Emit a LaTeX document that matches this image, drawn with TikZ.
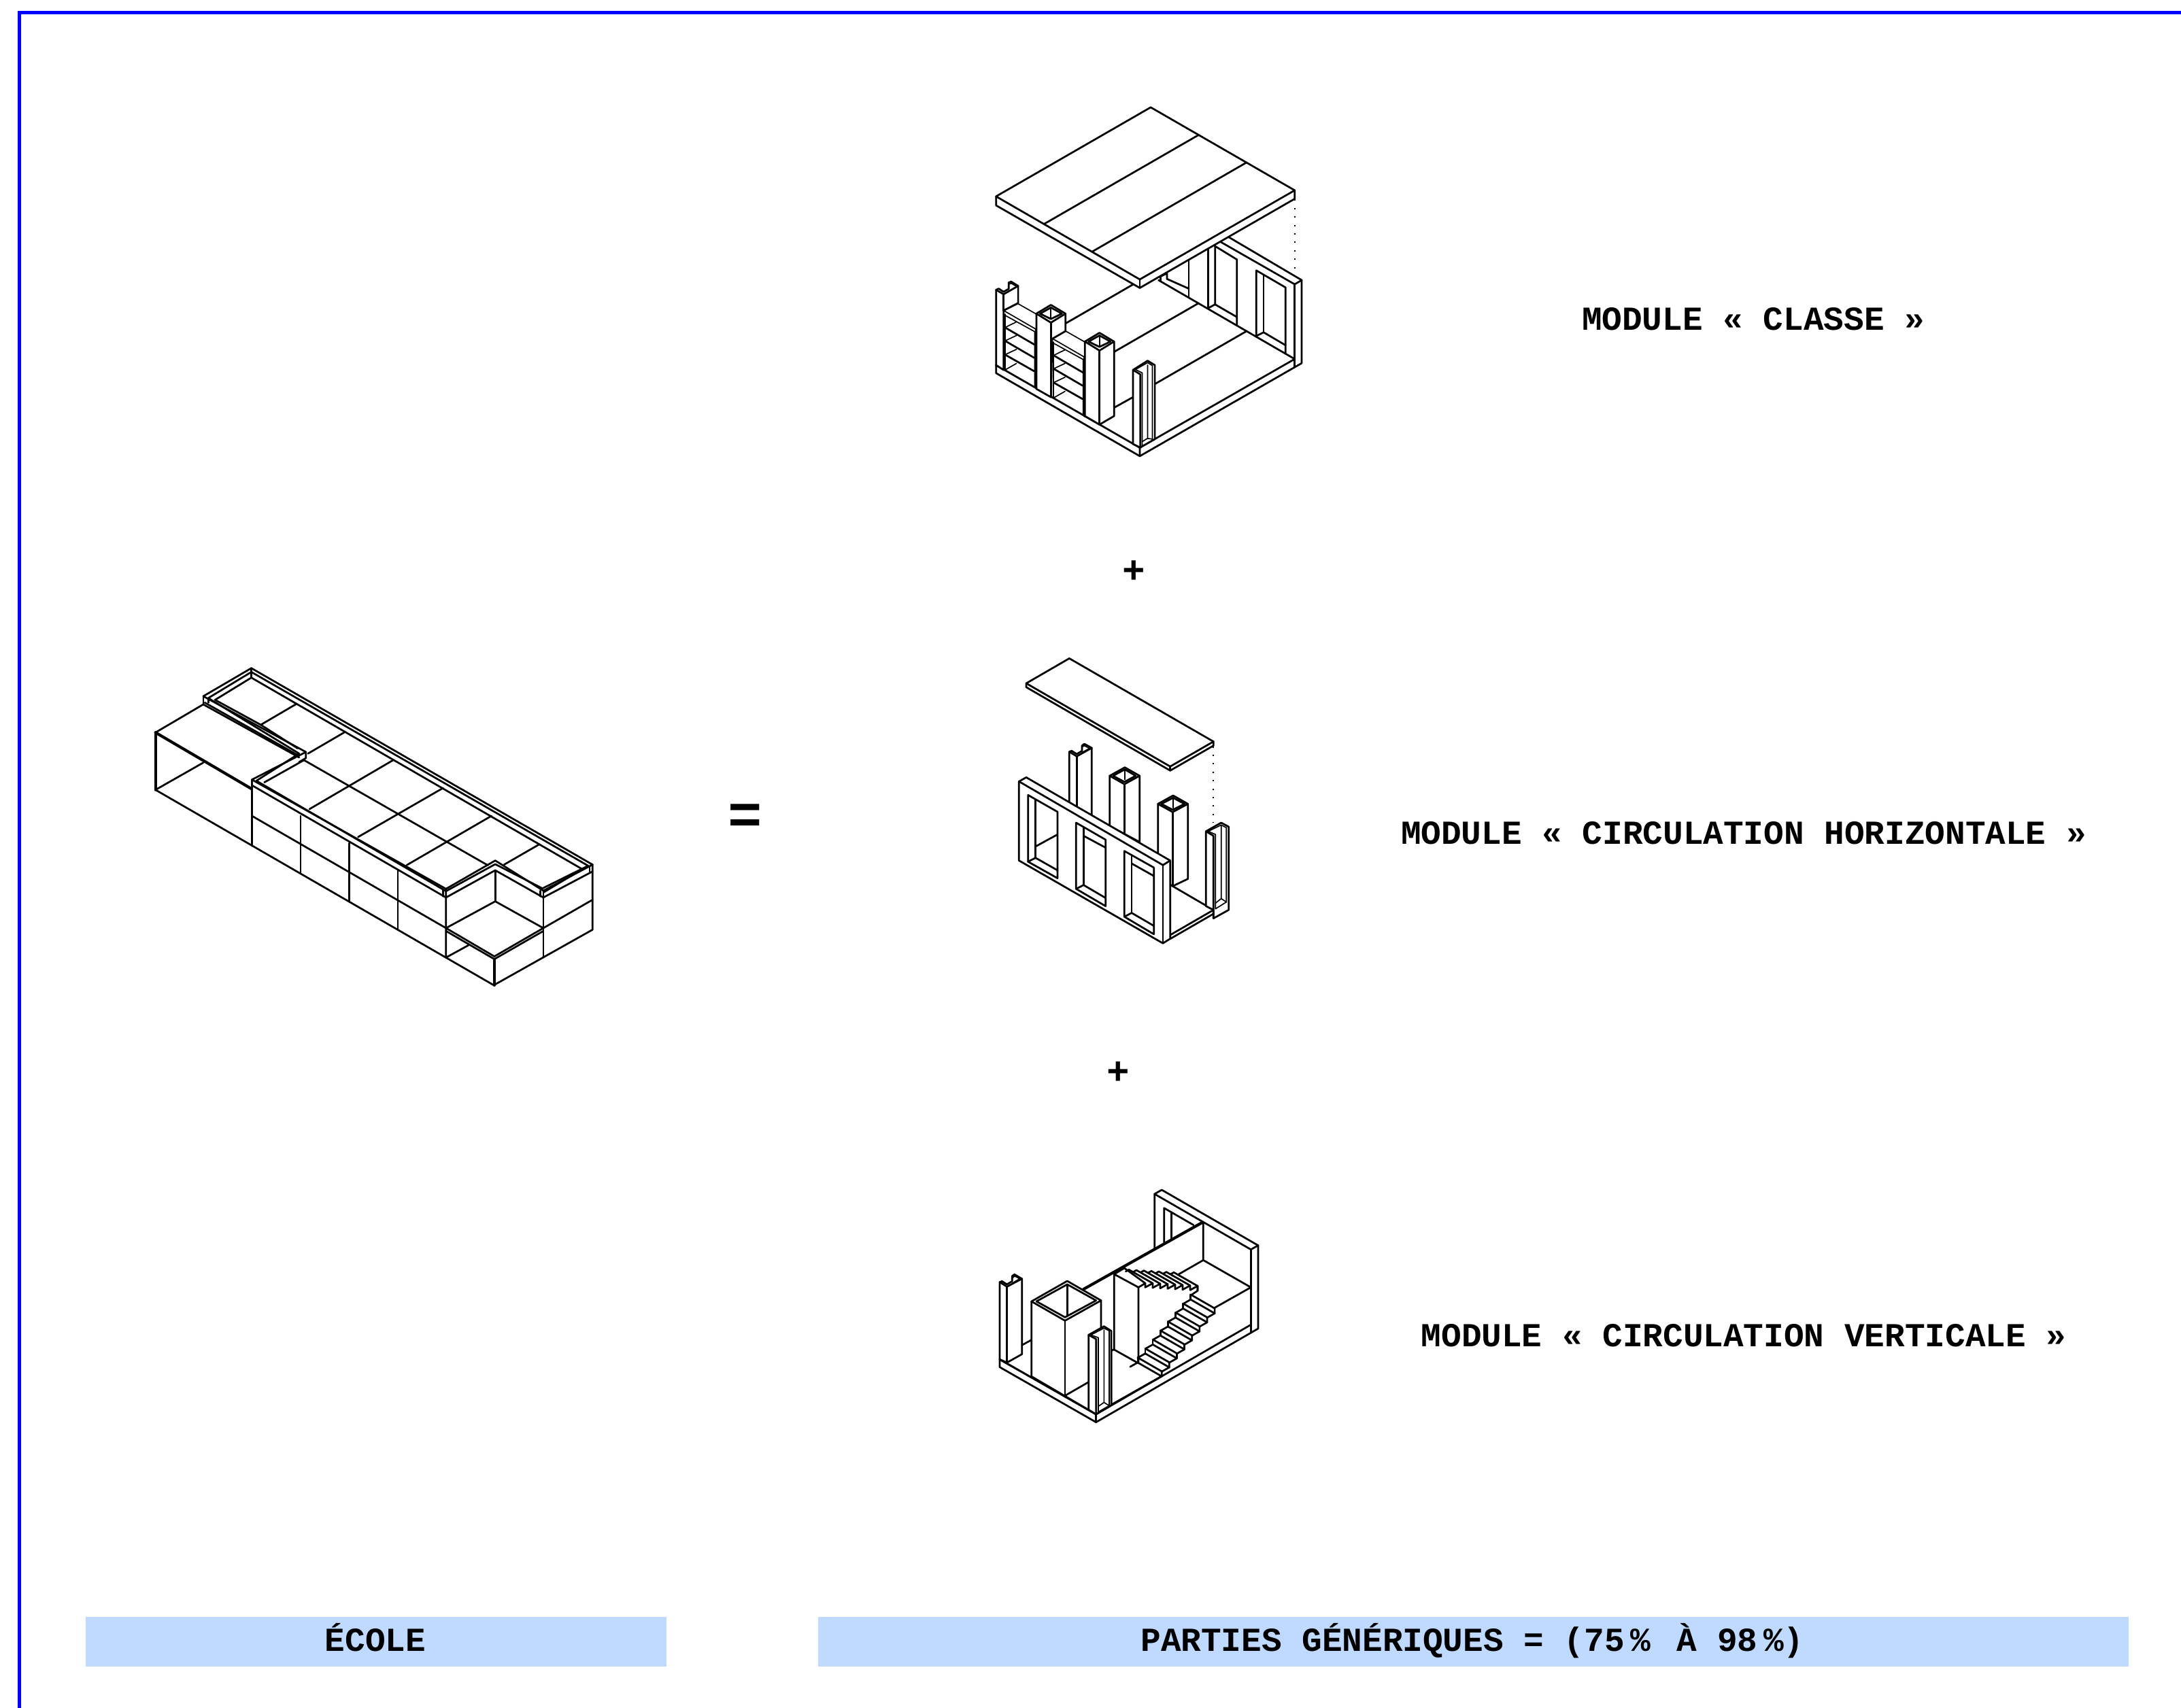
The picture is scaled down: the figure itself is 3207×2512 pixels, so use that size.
\documentclass[tikz,border=0pt]{standalone}
\usepackage{fontspec}
\setmainfont{Liberation Mono}[BoldFont={Liberation Mono Bold}]
\definecolor{framecol}{HTML}{0000FF}
\definecolor{barcol}{HTML}{BFD9FF}
\tikzset{
  ln/.style={draw=black,line width=0.68pt,line join=round,line cap=round},
  thin ln/.style={draw=black,line width=0.42pt,line join=round,line cap=round},
  heavy ln/.style={draw=black,line width=1.05pt,line join=round,line cap=round},
  face/.style={ln,fill=white},
  dots/.style={draw=black,line width=0.5pt,dash pattern=on 0.5pt off 2.6pt},
  lab/.style={font=\bfseries\fontsize{12.35pt}{15pt}\selectfont,inner sep=0pt,text=black,anchor=base},
  barbox/.style={fill=barcol,draw=none}
}
\begin{document}
\begin{tikzpicture}[x=0.25pt,y=-0.25pt]
\useasboundingbox (0,0) rectangle (3207,2512);
\fill[white] (0,0) rectangle (3207,2512);
\draw[framecol,line width=1.3pt] (28.5,2512) -- (28.5,18.5) -- (3207,18.5);

\fill[barbox] (126,2378) rectangle (980,2451);
\fill[barbox] (1203,2378) rectangle (3130,2451);
\node[lab] (ecole) at (552,2428) {ÉCOLE};
\node[lab] (parties) at (2165,2428) {PARTIES GÉNÉRIQUES = (75\kern0.18em\%\kern0.18em\ À 98\kern0.18em\%)};
\node[lab] (classe) at (2578,486) {MODULE « CLASSE »};
\node[lab] (chor) at (2564,1241) {MODULE « CIRCULATION HORIZONTALE »};
\node[lab] (cver) at (2564,1980) {MODULE « CIRCULATION VERTICALE »};
\node[lab,font=\bfseries\fontsize{14pt}{15pt}\selectfont] (plusa) at (1667,858) {+};
\node[lab,font=\bfseries\fontsize{14pt}{15pt}\selectfont] (plusb) at (1644,1594) {+};
\node[lab,font=\bfseries\fontsize{21pt}{26pt}\selectfont] (egal) at (1096,1226) {=};

% ------ MODULE CLASSE
\begin{scope}[shift={(1400,130)},scale=0.357]
\path[ln] (181,1140) -- (181,1173) -- (773,1515) -- (1440,1132) -- (1440,790) -- (1138,612);
\path[ln] (181,1140) -- (773,1480) -- (773,1515);
\path[ln] (773,1480) -- (1411,1115);
\path[ln] (1105,632) -- (1411,807) -- (1440,790);
\path[ln] (1411,807) -- (1411,1150);
\path[ln] (850,790) -- (1411,1115);
% windows
\path[ln] (1253,1020) -- (1253,750) -- (1373,820) -- (1373,1090);
\path[ln] (1283,768) -- (1283,1005);
\path[ln] (1253,1020) -- (1283,1005) -- (1373,1058);
\path[ln] (1055,905) -- (1055,660);
\path[ln] (1083,650) -- (1083,890) -- (1173,942);
\path[ln] (1083,650) -- (1173,705) -- (1173,975);
\path[ln] (1055,905) -- (1083,890);
\path[ln] (975,705) -- (975,860);
\path[ln] (885,785) -- (975,825);
\path[ln] (858,775) -- (885,762) -- (885,785);
\path[ln] (858,775) -- (858,795);
% floor lines
\path[ln] (1213,1000) -- (835,1218);
\path[ln] (1015,885) -- (668,1085);
\path[ln] (750,805) -- (468,968);
\path[ln] (745,1272) -- (668,1315);
% left C column
\path[face] (181,1140) -- (181,830) -- (192,825) -- (212,838) -- (233,826) -- (233,800) -- (243,796) -- (272,814) -- (272,885) -- (212,915) -- (212,1160) -- cycle;
\path[ln] (212,848) -- (212,915);
\path[ln] (181,830) -- (212,848) -- (272,814);
\path[thin ln] (233,808) -- (243,803) -- (262,814);
% shelves and columns
\foreach \dx/\dy in {0/0,200/115}{
\begin{scope}[shift={(\dx,\dy)}]
\path[thin ln] (212,915) -- (268,885) -- (347,930);
\path[thin ln] (212,915) -- (345,992);
\path[thin ln] (218,930) -- (218,1160);
\path[thin ln] (218,935) -- (340,1002) -- (340,1232);
\path[ln] (345,992) -- (345,1236);
\path[ln] (218,985) -- (338,1055);
\path[ln] (218,1040) -- (338,1110);
\path[ln] (218,1097) -- (338,1165);
\path[thin ln] (218,985) -- (265,962);
\path[thin ln] (218,1040) -- (265,1018);
\path[thin ln] (218,1097) -- (265,1075);
\path[thin ln] (218,1160) -- (265,1133);
\end{scope}}
\path[face] (347,928) -- (407,892) -- (467,928) -- (467,1000) -- (412,1032) -- (407,1272) -- (347,1238) -- cycle;
\path[ln] (347,928) -- (407,965) -- (467,928);
\path[ln] (407,965) -- (407,1272);
\path[ln] (362,928) -- (407,903) -- (452,928) -- (407,950) -- cycle;
\path[thin ln] (407,903) -- (407,950);
\path[face] (547,1043) -- (607,1007) -- (667,1043) -- (667,1350) -- (607,1385) -- (547,1350) -- cycle;
\path[ln] (547,1043) -- (607,1080) -- (667,1043);
\path[ln] (607,1080) -- (607,1385);
\path[ln] (562,1043) -- (607,1018) -- (652,1043) -- (607,1065) -- cycle;
\path[thin ln] (607,1018) -- (607,1065);
% right C column
\path[face] (745,1465) -- (745,1160) -- (805,1122) -- (835,1140) -- (835,1445) -- (782,1475) -- (775,1480) -- cycle;
\path[ln] (745,1160) -- (775,1178) -- (775,1480);
\path[thin ln] (755,1158) -- (805,1130) -- (825,1142) -- (825,1445);
\path[thin ln] (755,1158) -- (783,1172) -- (783,1475);
\path[thin ln] (805,1140) -- (805,1442) -- (783,1455);
\path[thin ln] (805,1442) -- (825,1445);
% roof
\path[face] (818,78) -- (1411,420) -- (1411,455) -- (773,822) -- (181,482) -- (181,445) -- cycle;
\path[ln] (181,445) -- (773,787) -- (1411,420);
\path[ln] (773,787) -- (773,822);
\path[ln] (1015,192) -- (380,558);
\path[ln] (1213,305) -- (578,672);
\path[dots] (1411,458) -- (1411,790);
\end{scope}

% ------ MODULE CIRCULATION HORIZONTALE
\begin{scope}[shift={(1460,940)},scale=0.3333]
% C back
\path[ln] (337,720) -- (337,497) -- (347,493) -- (370,507) -- (393,493) -- (393,470) -- (403,462) -- (436,480) -- (436,775);
\path[ln] (337,497) -- (370,517) -- (436,480);
\path[ln] (370,517) -- (370,740);
\path[thin ln] (397,474) -- (403,470) -- (426,482) -- (393,500);
% col 1
\path[face] (515,603) -- (582,566) -- (647,603) -- (647,895) -- (515,825) -- cycle;
\path[ln] (515,603) -- (580,640) -- (647,603);
\path[ln] (580,640) -- (580,858);
\path[ln] (530,603) -- (582,575) -- (630,603) -- (580,630) -- cycle;
\path[thin ln] (582,575) -- (582,620);
% col 2
\path[face] (728,727) -- (795,690) -- (860,727) -- (860,1058) -- (793,1090) -- (728,1050) -- cycle;
\path[ln] (728,727) -- (793,763) -- (860,727);
\path[ln] (793,763) -- (793,1090);
\path[ln] (743,727) -- (795,700) -- (845,727) -- (793,753) -- cycle;
\path[thin ln] (795,700) -- (795,745);
% floor
\path[ln] (793,1090) -- (973,1195);
\path[ln] (783,1305) -- (973,1195);
\path[ln] (783,1322) -- (973,1212);
% C right
\path[face] (940,1178) -- (940,848) -- (1007,810) -- (1040,828) -- (1040,1195) -- (973,1232) -- (973,1195) -- cycle;
\path[ln] (940,848) -- (973,868) -- (973,1232);
\path[thin ln] (950,848) -- (1007,820) -- (1030,832) -- (1030,1160) -- (982,1190) -- (982,862) -- cycle;
\path[thin ln] (1007,820) -- (1007,1145) -- (982,1165);
\path[thin ln] (1007,1145) -- (1030,1160);
% wall
\path[face] (115,628) -- (147,610) -- (782,977) -- (782,1322) -- (750,1342) -- (115,977) -- cycle;
\path[ln] (115,628) -- (750,997) -- (782,977);
\path[ln] (750,997) -- (750,1342);
% windows
\path[ln] (155,688) -- (285,762) -- (285,1055) -- (155,982) -- cycle;
\path[ln] (188,708) -- (188,965);
\path[ln] (155,982) -- (188,965) -- (285,1020);
\path[ln] (188,915) -- (285,862);
\path[ln] (367,810) -- (497,885) -- (497,1178) -- (367,1102) -- cycle;
\path[ln] (400,830) -- (400,1085);
\path[ln] (367,1102) -- (400,1085) -- (497,1142);
\path[ln] (400,868) -- (497,920);
\path[ln] (580,935) -- (710,1008) -- (710,1302) -- (580,1225) -- cycle;
\path[ln] (612,953) -- (612,1208);
\path[ln] (580,1225) -- (612,1208) -- (710,1265);
\path[ln] (612,990) -- (710,1045);
% roof
\path[face] (337,85) -- (973,452) -- (973,470) -- (782,580) -- (147,212) -- (147,195) -- cycle;
\path[ln] (147,195) -- (782,562) -- (973,452);
\path[ln] (782,562) -- (782,580);
\path[dots] (973,473) -- (973,810);
\end{scope}

% ------ MODULE CIRCULATION VERTICALE
\begin{scope}[shift={(1450,1730)},scale=0.3333]
\path[ln] (60,808) -- (60,842) -- (485,1085) -- (1200,672);
\path[ln] (60,808) -- (485,1050) -- (1168,655);
\path[ln] (485,1050) -- (485,1085);
% right wall
\path[ln] (743,320) -- (743,78) -- (775,60) -- (1200,305) -- (1200,672);
\path[ln] (743,78) -- (1168,323) -- (1200,305);
\path[ln] (1168,323) -- (1168,690);
\path[ln] (785,295) -- (785,140) -- (915,215);
\path[ln] (817,158) -- (817,275);
% partition
\path[heavy ln] (430,498) -- (955,203);
\path[ln] (958,205) -- (958,370) -- (1168,490) -- (1005,582);
\path[ln] (958,370) -- (850,432);
\path[ln] (565,432) -- (565,765) -- (672,825);
\path[ln] (565,432) -- (672,490) -- (672,820);
\path[ln] (565,432) -- (610,405) -- (702,472) -- (672,490);
\path[ln] (702,472) -- (702,490) -- (735,472);
\path[ln] (552,770) -- (565,763);
\path[ln] (545,1012) -- (778,880);
% upper flight
\foreach \i in {0,...,6}{
  \pgfmathsetmacro\tx{630+33*\i}\pgfmathsetmacro\ty{412+2*\i}
  \pgfmathsetmacro\ax{\tx+105}\pgfmathsetmacro\ay{\ty+60}
  \path[ln] (\tx-14,\ty+8) -- (\tx,\ty) -- (\ax,\ay) -- (\ax,\ay+20);
  \ifnum\i<6 \path[ln] (\ax,\ay+20) -- (\ax+33,\ay+2); \fi
}
\path[ln] (933,484) -- (933,505) -- (900,527);
% lower flight
\foreach \i in {-1,...,6}{
  \pgfmathsetmacro\lx{702+33.4*\i}\pgfmathsetmacro\ly{760-39.7*\i}
  \pgfmathsetmacro\rx{\lx+106}\pgfmathsetmacro\ry{\ly+61}
  \path[ln] (\lx,\ly) -- (\rx,\ry) -- (\rx,\ry+22);
  \path[ln] (\lx,\ly+22) -- (\rx,\ry+22);
  \path[ln] (\lx,\ly) -- (\lx,\ly+22);
  \path[ln] (\lx,\ly+22) -- (\lx-33.4,\ly+41);
  \path[ln] (\rx,\ry+22) -- (\rx-33.4,\ry+41);
}
% left C
\path[face] (60,808) -- (60,467) -- (70,463) -- (92,477) -- (115,463) -- (115,440) -- (125,433) -- (158,452) -- (158,785) -- (92,822) -- cycle;
\path[ln] (60,467) -- (92,487) -- (158,452);
\path[ln] (92,487) -- (92,822);
\path[thin ln] (119,447) -- (125,440) -- (148,452) -- (115,472);
\path[ln] (158,745) -- (200,722);
% box
\path[face] (200,552) -- (358,462) -- (507,548) -- (507,720) -- (552,770) -- (552,1010) -- (485,1050) -- (200,883) -- cycle;
\path[ln] (200,552) -- (348,637) -- (507,548);
\path[ln] (348,637) -- (348,968);
\path[ln] (222,552) -- (358,477) -- (485,548) -- (348,622) -- cycle;
\path[ln] (358,477) -- (358,615);
\path[ln] (60,808) -- (485,1050);
\path[ln] (348,968) -- (452,908);
% front C
\path[face] (452,1030) -- (452,700) -- (520,662) -- (552,682) -- (552,1010) -- (485,1050) -- cycle;
\path[ln] (452,700) -- (485,718) -- (485,1050);
\path[thin ln] (462,700) -- (520,670) -- (543,682) -- (543,1012) -- (495,1040) -- (495,712) -- cycle;
\path[thin ln] (520,678) -- (520,998) -- (495,1015);
\path[thin ln] (520,998) -- (543,1012);
\end{scope}

% ------ BATIMENT
\begin{scope}[shift={(210,970)},xscale=0.43365,yscale=0.3333]
\path[ln] (43,322) -- (205,198);
\path[heavy ln] (43,322) -- (43,575);
\path[heavy ln] (43,322) -- (368,570);
\path[ln] (43,575) -- (205,455);
\path[ln] (43,575) -- (1190,1437) -- (1525,1192) -- (1525,905);
% parapet
\path[ln] (205,162) -- (368,38) -- (1525,905) -- (1358,1020) -- (1195,887) -- (1028,1012) -- (370,530) -- (553,408) -- cycle;
\path[ln] (222,170) -- (368,55) -- (1510,910) -- (1355,1010) -- (1195,903) -- (1028,1022) -- (385,535) -- (530,415) -- cycle;
\path[ln] (245,178) -- (368,80) -- (1490,925) -- (1358,1028);
\path[ln] (245,178) -- (400,288) -- (525,392);
\path[ln] (412,542) -- (545,445);
\path[ln] (205,198) -- (530,432);
\path[ln] (210,190) -- (530,425);
\path[ln] (370,555) -- (1028,1050);
\path[ln] (370,530) -- (370,822);
\path[ln] (205,162) -- (205,198);
\path[ln] (222,170) -- (222,190);
\path[ln] (553,408) -- (553,435) -- (530,452);
\path[ln] (1018,1018) -- (1018,1045);
\path[ln] (1348,1020) -- (1348,1045);
\path[ln] (1515,912) -- (1515,935);
\path[ln] (368,38) -- (368,80);
% grid
\path[ln] (400,288) -- (522,195);
\path[ln] (560,415) -- (685,320);
\path[ln] (565,660) -- (850,443);
\path[ln] (730,783) -- (1018,567);
\path[ln] (895,907) -- (1182,690);
\path[ln] (1225,905) -- (1345,815);
\path[ln] (548,445) -- (1170,908);
% walls
\path[ln] (535,690) -- (535,942);
\path[ln] (700,810) -- (700,1065);
\path[ln] (865,930) -- (865,1190);
\path[ln] (1028,1012) -- (1028,1315) -- (1105,1260);
\path[ln] (370,690) -- (1028,1185);
% recess
\path[ln] (1028,1050) -- (1195,930) -- (1358,1050) -- (1525,935);
\path[ln] (1195,930) -- (1195,1067);
\path[ln] (1028,1185) -- (1195,1067) -- (1358,1185);
\path[ln] (1358,1020) -- (1358,1315);
\path[ln] (1525,1060) -- (1358,1185);
% front box
\path[ln] (1028,1185) -- (1192,1310) -- (1358,1185);
\path[ln] (1028,1198) -- (1192,1322) -- (1358,1198);
\path[heavy ln] (1192,1322) -- (1192,1437);
\end{scope}
\end{tikzpicture}
\end{document}
